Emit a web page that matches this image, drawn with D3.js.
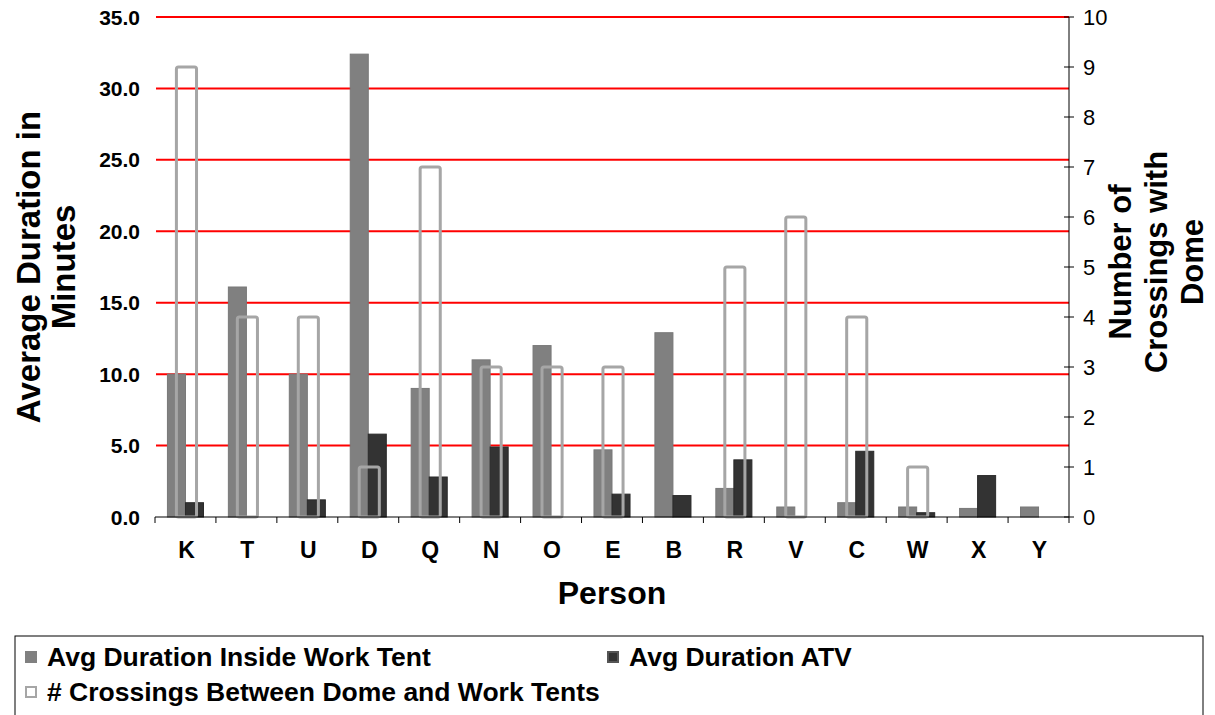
<!DOCTYPE html>
<html>
<head>
<meta charset="utf-8">
<script src="https://cdn.jsdelivr.net/npm/d3@7"></script>
<style>
  body { margin: 0; background: #fff; }
  text { font-family: "Liberation Sans", Arial, sans-serif; }
</style>
</head>
<body>
<div id="chart"></div>
<script>
// data
var persons   = ["K","T","U","D","Q","N","O","E","B","R","V","C","W","X","Y"];
var insideTent = [10.0,16.1,10.0,32.4,9.0,11.0,12.0,4.7,12.9,2.0,0.7,1.0,0.7,0.6,0.7];
var atvTime    = [1.0,0,1.2,5.8,2.8,4.9,0,1.6,1.5,4.0,0,4.6,0.3,2.9,0];
var crossings  = [9,4,4,1,7,3,3,3,0,5,6,4,1,0,0];
var leftTicks  = [0,5,10,15,20,25,30,35];
var rightTicks = [0,1,2,3,4,5,6,7,8,9,10];

var data = persons.map(function(p, i) {
  return {person: p, inside: insideTent[i], atv: atvTime[i], cross: crossings[i]};
});

// dimensions
var W = 1215, H = 715;
var plot = {left: 155, right: 1069, top: 17, bottom: 517};

var svg = d3.select("#chart").append("svg")
  .attr("width", W)
  .attr("height", H);

// scales
var x = d3.scaleBand()
  .domain(persons)
  .range([plot.left, plot.right])
  .padding(0);

var xs = d3.scaleBand()
  .domain(["inside","atv"])
  .range([0, x.bandwidth()])
  .paddingInner(0)
  .paddingOuter(0.69);

var y = d3.scaleLinear().domain([0, 35]).range([plot.bottom, plot.top]);
var y2 = d3.scaleLinear().domain([0, 10]).range([plot.bottom, plot.top]);

// gridlines
svg.append("g")
  .selectAll("line")
  .data(leftTicks.filter(function(d){ return d > 0; }))
  .enter().append("line")
    .attr("x1", plot.left + 1)
    .attr("x2", plot.right)
    .attr("y1", function(d){ return y(d); })
    .attr("y2", function(d){ return y(d); })
    .style("stroke", "#ff0000")
    .style("stroke-width", 2);

// left tick labels (no axis line)
svg.append("g")
  .selectAll("text")
  .data(leftTicks)
  .enter().append("text")
    .attr("x", 140)
    .attr("y", function(d){ return y(d); })
    .attr("dy", "0.36em")
    .attr("text-anchor", "end")
    .style("font-weight", "bold")
    .style("font-size", "21px")
    .text(function(d){ return d.toFixed(1); });

// bars: inside work tent
svg.append("g")
  .selectAll("rect")
  .data(data)
  .enter().append("rect")
    .attr("x", function(d){ return x(d.person) + xs("inside"); })
    .attr("y", function(d){ return y(d.inside); })
    .attr("width", xs.bandwidth())
    .attr("height", function(d){ return y(0) - y(d.inside); })
    .style("fill", "#808080")
    .style("stroke", "#787878")
    .style("stroke-width", 1);

// bars: ATV
svg.append("g")
  .selectAll("rect")
  .data(data.filter(function(d){ return d.atv > 0; }))
  .enter().append("rect")
    .attr("x", function(d){ return x(d.person) + xs("atv"); })
    .attr("y", function(d){ return y(d.atv); })
    .attr("width", xs.bandwidth())
    .attr("height", function(d){ return y(0) - y(d.atv); })
    .style("fill", "#333333")
    .style("stroke", "#2a2a2a")
    .style("stroke-width", 1);

// bars: crossings (secondary axis, hollow)
var cw = x.bandwidth() * 0.33;
svg.append("g")
  .selectAll("rect")
  .data(data.filter(function(d){ return d.cross > 0; }))
  .enter().append("rect")
    .attr("x", function(d){ return x(d.person) + x.bandwidth() / 2 - cw / 2 + 1; })
    .attr("y", function(d){ return y2(d.cross); })
    .attr("width", cw)
    .attr("height", function(d){ return y2(0) - y2(d.cross); })
    .attr("rx", 2)
    .style("fill", "none")
    .style("stroke", "#a6a6a6")
    .style("stroke-width", 3);

// bottom axis
var xAxis = svg.append("g")
  .attr("transform", "translate(0," + plot.bottom + ")");
xAxis.append("line")
  .attr("x1", plot.left).attr("x2", plot.right)
  .style("stroke", "#000").style("stroke-width", 1);
xAxis.selectAll(".tk")
  .data(persons.concat(["end"]))
  .enter().append("line")
    .attr("x1", function(d, i){ return i < persons.length ? x(d) : plot.right; })
    .attr("x2", function(d, i){ return i < persons.length ? x(d) : plot.right; })
    .attr("y1", 0).attr("y2", 6)
    .style("stroke", "#000");
xAxis.selectAll(".lbl")
  .data(persons)
  .enter().append("text")
    .attr("x", function(d){ return x(d) + x.bandwidth() / 2 + 1; })
    .attr("y", 41)
    .attr("text-anchor", "middle")
    .style("font-weight", "bold")
    .style("font-size", "23px")
    .text(function(d){ return d; });

// right axis
var rAxis = svg.append("g")
  .attr("transform", "translate(" + plot.right + ",0)");
rAxis.append("line")
  .attr("y1", plot.top).attr("y2", plot.bottom)
  .style("stroke", "#000");
rAxis.selectAll("line.tk")
  .data(rightTicks)
  .enter().append("line")
    .attr("class", "tk")
    .attr("x1", -5).attr("x2", 5)
    .attr("y1", function(d){ return y2(d); })
    .attr("y2", function(d){ return y2(d); })
    .style("stroke", "#000");
rAxis.selectAll("text")
  .data(rightTicks)
  .enter().append("text")
    .attr("x", 14)
    .attr("y", function(d){ return y2(d); })
    .attr("dy", "0.36em")
    .style("font-size", "22px")
    .text(function(d){ return d; });

// axis titles
svg.append("text")
  .attr("x", 612).attr("y", 604)
  .attr("text-anchor", "middle")
  .style("font-weight", "bold")
  .style("font-size", "32px")
  .text("Person");

var lt = svg.append("text")
  .attr("transform", "translate(40,267) rotate(-90)")
  .attr("text-anchor", "middle")
  .style("font-weight", "bold")
  .style("font-size", "33px");
lt.append("tspan").attr("x", 0).attr("dy", 0).text("Average Duration in");
lt.append("tspan").attr("x", 0).attr("dy", 35).text("Minutes");

var rt = svg.append("text")
  .attr("transform", "translate(1131,262) rotate(-90)")
  .attr("text-anchor", "middle")
  .style("font-weight", "bold")
  .style("font-size", "31px");
rt.append("tspan").attr("x", 0).attr("dy", 0).text("Number of");
rt.append("tspan").attr("x", 0).attr("dy", 36).text("Crossings with");
rt.append("tspan").attr("x", 0).attr("dy", 36).text("Dome");

// legend
var legend = svg.append("g");
legend.append("rect")
  .attr("x", 15).attr("y", 636)
  .attr("width", 1188).attr("height", 100)
  .style("fill", "none")
  .style("stroke", "#000")
  .style("stroke-width", 1);

var legendItems = [
  {label: "Avg Duration Inside Work Tent", x: 25, y: 651, fill: "#808080", stroke: "#808080"},
  {label: "Avg Duration ATV", x: 607, y: 651, fill: "#333333", stroke: "#555555"},
  {label: "# Crossings Between Dome and Work Tents", x: 25, y: 686, fill: "#fff", stroke: "#a6a6a6"}
];
legendItems.forEach(function(it) {
  legend.append("rect")
    .attr("x", it.x + 1).attr("y", it.y + 1)
    .attr("width", 10).attr("height", 10)
    .style("fill", it.fill)
    .style("stroke", it.stroke)
    .style("stroke-width", 2);
  legend.append("text")
    .attr("x", it.x + 22).attr("y", it.y + 15)
    .style("font-weight", "bold")
    .style("font-size", "26.5px")
    .text(it.label);
});
</script>
</body>
</html>
